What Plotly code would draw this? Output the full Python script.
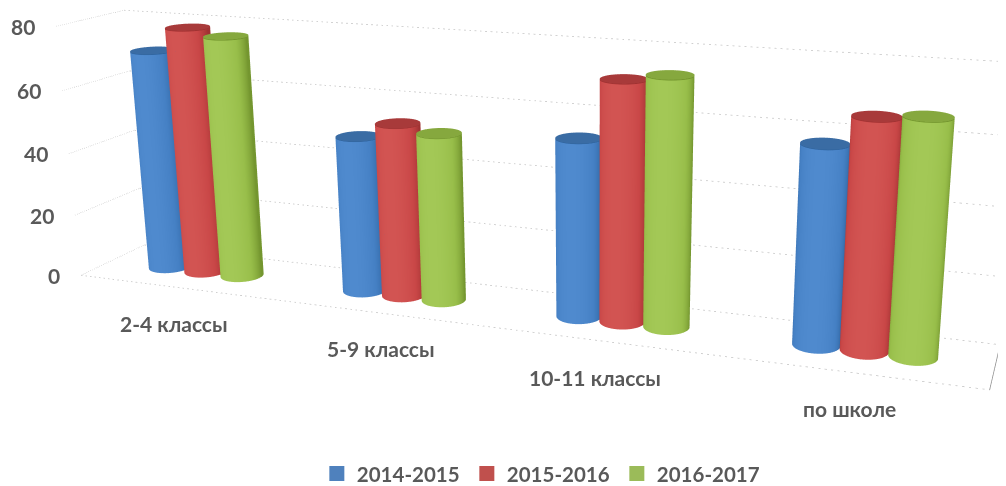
import numpy as np
import plotly.graph_objects as go

categories = ["2-4 классы", "5-9 классы", "10-11 классы", "по школе"]
series_names = ["2014-2015", "2015-2016", "2016-2017"]
values_2014 = [71, 49, 54, 58]
values_2015 = [79, 54, 72, 66.5]
values_2016 = [77, 52, 74, 67.5]
z_ticks = [0, 20, 40, 60, 80]
colors = ["#4f81bd", "#c0504d", "#9bbb59"]
# bar shading: edge, middle, brightest, top cap
bar_shades = [
    ["#2f649f", "#4580c4", "#4f8ace", "#3a6ca4"],
    ["#a03232", "#c94747", "#d25452", "#a83a3a"],
    ["#74962f", "#98be4a", "#a3c856", "#86a83e"],
]

W, H = 1006, 486
F = 552.0
CX, CY = 511.0, 239.0
R = 4.0
SC = 1 / (2 * R)
EYE = 2.0
Z_MAX = 80

# view calibration: chart box corners (category, depth, value) -> where they appear
box = [(0, 0, 0), (4, 0, 0), (0, 1, 0), (4, 1, 0), (0, 0, 80), (4, 0, 80), (0, 1, 80), (4, 1, 80)]
seen = [(82, 275), (987, 390), (148, 247), (997, 345), (60, 28), (1011, 91), (125, 13), (1020, 63)]


def fit_view():
    rows = []
    for (x, y, z), (u, v) in zip(box, seen):
        p = [x / 4, y, z / Z_MAX, 1]
        rows.append(p + [0, 0, 0, 0] + [-u * c for c in p])
        rows.append([0, 0, 0, 0] + p + [-v * c for c in p])
    m = np.linalg.svd(np.array(rows, float))[2][-1].reshape(3, 4)
    mid = m[2] @ np.array([0.5, 0.5, 0.5, 1])
    return m * (EYE / mid)


VIEW = fit_view()


def to_scene(x, y, z):
    x, y, z = np.asarray(x, float), np.asarray(y, float), np.asarray(z, float)
    p = np.stack([x / 4, y, z / Z_MAX, np.ones_like(x + y + z)])
    h = np.tensordot(VIEW, p, axes=(1, 0))
    w = h[2]
    u, v = h[0] / w, h[1] / w
    return (u - CX) * w / F, w - EYE, (CY - v) * w / F


fig = go.Figure()

BAR_STEP, RX, RY = 0.19, 0.095, 0.2
profile = [(0, 1), (0.97, 1), (1, 1), (1, 0.995), (1, 0.5), (1, 0.005), (1, 0), (0.97, 0), (0, 0)]
theta = np.linspace(0, 2 * np.pi, 97)
all_values = [values_2014, values_2015, values_2016]


def cylinder(cx, value):
    r = np.array([a for a, _ in profile])[:, None]
    zf = np.array([b for _, b in profile])[:, None]
    x = cx + RX * r * np.cos(theta)[None, :]
    y = 0.5 + RY * r * np.sin(theta)[None, :]
    z = value * zf * np.ones_like(x)
    # shade: 0 is the cap colour, the side runs 0.1 (back) to 1 (facing the viewer)
    side = 0.1 + 0.9 * (1 - np.sin(theta)) / 2
    shade = np.where((zf == 1) & (r < 1), 0.0, side[None, :])
    shade[2:3] = 0.0
    return (*to_scene(x, y, z), shade)


def scale_of(s):
    return [[0, s[3]], [0.099, s[3]], [0.1, s[0]], [0.5, s[0]], [0.78, s[1]], [1, s[2]]]


for j, vals in enumerate(all_values):
    for i, v in enumerate(vals):
        X, Y, Z, shade = cylinder(i + 0.5 + (j - 1) * BAR_STEP, v)
        fig.add_trace(go.Surface(
            x=X, y=Y, z=Z, surfacecolor=shade, cmin=0, cmax=1,
            colorscale=scale_of(bar_shades[j]), showscale=False, hoverinfo="skip",
            lighting=dict(ambient=1, diffuse=0, specular=0, roughness=1, fresnel=0),
        ))


def grid(xs, ys, zs, color="#c4c4c4", dash="dot"):
    X, Y, Z = to_scene(xs, ys, zs)
    fig.add_trace(go.Scatter3d(x=X, y=Y, z=Z, mode="lines", hoverinfo="skip", showlegend=False,
                               line=dict(color=color, width=1.5, dash=dash)))


for t in z_ticks:
    grid([0, 0, 4], [0, 1, 1], [t, t, t])
grid([0, 4, 4], [0, 0, 1], [0, 0, 0])
grid([4, 4], [0, 1], [0, 0], color="#8c8c8c", dash="solid")

for j, name in enumerate(series_names):
    fig.add_trace(go.Scatter3d(x=[None], y=[None], z=[None], mode="markers", name=name,
                               marker=dict(color=colors[j], symbol="square", size=15)))

FONT = "Lato"
ann = []
for t in z_ticks:
    X, Y, Z = to_scene(0, 0, t)
    ann.append(dict(x=float(X), y=float(Y), z=float(Z), text=f"<b>{t}</b>", showarrow=False,
                    xanchor="right", yanchor="middle", xshift=-19, font=dict(family=FONT, size=21, color="#595959")))
label_nudge = [-1, 2, -9, -4]
for i, c in enumerate(categories):
    X, Y, Z = to_scene(i + 0.5, 0, 0)
    ann.append(dict(x=float(X), y=float(Y), z=float(Z), text=f"<b>{c}</b>", showarrow=False,
                    xanchor="center", yanchor="middle", yshift=-36, xshift=label_nudge[i],
                    font=dict(family=FONT, size=21, color="#595959")))

hidden = dict(visible=False, range=[-R, R], autorange=False, showgrid=False, showbackground=False, zeroline=False)
fig.update_layout(
    width=W, height=H, margin=dict(l=0, r=0, t=0, b=0), paper_bgcolor="white",
    scene=dict(
        domain=dict(x=[0, 1], y=[0, 1]),
        xaxis=hidden, yaxis=hidden, zaxis=hidden,
        aspectmode="manual", aspectratio=dict(x=1, y=1, z=1),
        camera=dict(eye=dict(x=0, y=-EYE * SC, z=0), center=dict(x=0, y=0, z=0), up=dict(x=0, y=0, z=1),
                    projection=dict(type="perspective")),
        annotations=ann,
    ),
    legend=dict(orientation="h", x=0.307, xanchor="left", y=0.031, yanchor="top",
                font=dict(family=FONT, size=20.5, color="#595959", weight=700),
                entrywidth=105, entrywidthmode="pixels", bgcolor="rgba(0,0,0,0)"),
    showlegend=True,
)
fig.write_html("out.html")
